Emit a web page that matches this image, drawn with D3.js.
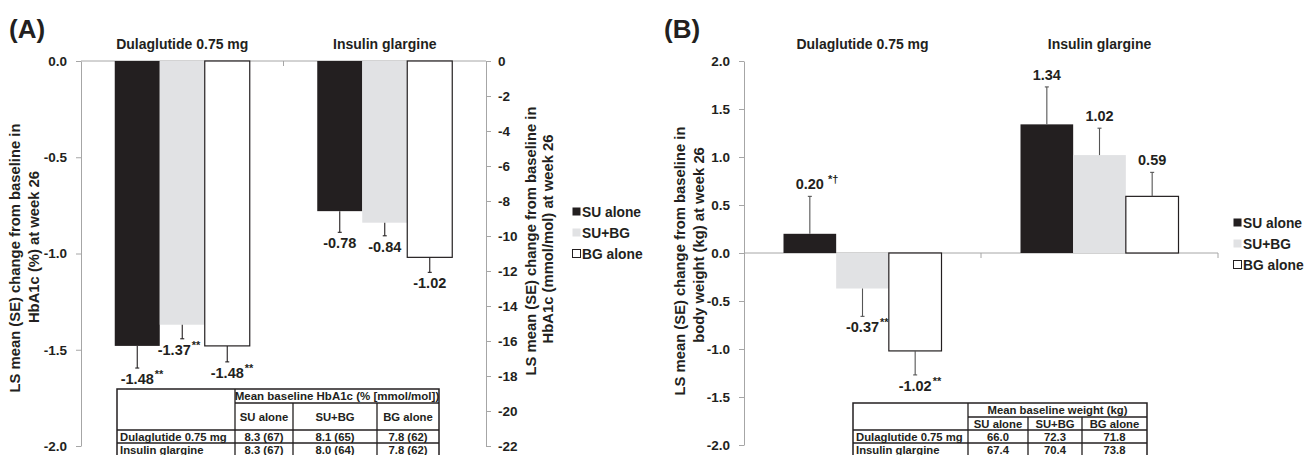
<!DOCTYPE html>
<html>
<head>
<meta charset="utf-8">
<script src="https://cdn.jsdelivr.net/npm/d3@7"></script>
<style>
  body { margin: 0; background: #fff; }
  svg { display: block; font-family: "Liberation Sans", Arial, sans-serif; font-weight: bold; }
  .axis path, .axis line { stroke: #a6a6a6; }
  .axis text { fill: #231f20; font-size: 13.5px; font-weight: bold; }
</style>
</head>
<body>
<div id="chart"></div>
<script>
//categories and series
var groups = ["Dulaglutide 0.75 mg", "Insulin glargine"],
    series = ["SU alone", "SU+BG", "BG alone"];

//(A) HbA1c change, %
var hba1cMean = [[-1.48, -1.37, -1.48], [-0.78, -0.84, -1.02]],
    hba1cSE = [[0.115, 0.073, 0.083], [0.11, 0.068, 0.078]],
    hba1cSig = [["**", "**", "**"], ["", "", ""]],
    hba1cTicks = [0, -0.5, -1.0, -1.5, -2.0],
    mmolTicks = [0, -2, -4, -6, -8, -10, -12, -14, -16, -18, -20, -22];

//(B) body weight change, kg
var weightMean = [[0.20, -0.37, -1.02], [1.34, 1.02, 0.59]],
    weightSE = [[0.39, 0.29, 0.25], [0.39, 0.28, 0.25]],
    weightSig = [[" *\u2020", "**", "**"], ["", "", ""]],
    weightTicks = [2.0, 1.5, 1.0, 0.5, 0.0, -0.5, -1.0, -1.5, -2.0];

//baseline tables
var tableRows = ["Dulaglutide 0.75 mg", "Insulin glargine"],
    hba1cBaseline = [["8.3 (67)", "8.1 (65)", "7.8 (62)"], ["8.3 (67)", "8.0 (64)", "7.8 (62)"]],
    weightBaseline = [["66.0", "72.3", "71.8"], ["67.4", "70.4", "73.8"]];

var colors = ["#231f20", "#e1e2e4", "#ffffff"],
    ink = "#231f20";

var svg = d3.select("#chart").append("svg")
    .attr("width", 1307)
    .attr("height", 455);

function drawPanel(opt) {
    var g = svg.append("g");

    var x = d3.scaleBand().domain(groups).range([opt.x0, opt.x1]);
    var bw = x.bandwidth();
    var xs = d3.scaleBand().domain(series).range([bw / 6, bw * 5 / 6]);
    var y = d3.scaleLinear().domain(opt.domain).range([opt.yBot, opt.yTop]);

    //panel letter
    g.append("text")
        .attr("x", opt.letterX).attr("y", 38)
        .style("font-size", "26px").style("fill", ink)
        .text(opt.letter);

    //group titles
    g.selectAll(".grp").data(groups).enter().append("text")
        .attr("x", function(d) { return x(d) + bw / 2; })
        .attr("y", 49)
        .attr("text-anchor", "middle")
        .style("font-size", "14px").style("fill", ink)
        .text(function(d) { return d; });

    //left axis
    g.append("g").attr("class", "axis")
        .attr("transform", "translate(" + opt.x0 + ",0)")
        .call(d3.axisLeft(y).tickValues(opt.ticks).tickSize(5).tickSizeOuter(0)
            .tickFormat(function(d) { return d.toFixed(1); }))
        .selectAll("text").attr("dx", "-6");

    //category axis at zero
    g.append("line")
        .attr("x1", opt.x0).attr("x2", opt.x1)
        .attr("y1", y(0)).attr("y2", y(0))
        .attr("stroke", "#a6a6a6");
    var sepTicks = groups.slice(1).map(function(d) { return x(d); });
    if (opt.endTick) sepTicks.push(opt.x1);
    g.selectAll(".sep").data(sepTicks).enter().append("line")
        .attr("x1", function(d) { return d; }).attr("x2", function(d) { return d; })
        .attr("y1", y(0)).attr("y2", y(0) + 5)
        .attr("stroke", "#a6a6a6");

    //flatten data
    var rows = [];
    groups.forEach(function(grp, gi) {
        series.forEach(function(s, si) {
            rows.push({grp: grp, s: s, gi: gi, si: si,
                v: opt.mean[gi][si], se: opt.se[gi][si], sig: opt.sig[gi][si]});
        });
    });

    var bars = g.selectAll(".bar").data(rows).enter().append("g");

    bars.append("rect")
        .attr("x", function(d) { return x(d.grp) + xs(d.s); })
        .attr("width", xs.bandwidth())
        .attr("y", function(d) { return y(Math.max(0, d.v)); })
        .attr("height", function(d) { return Math.abs(y(d.v) - y(0)); })
        .attr("fill", function(d) { return colors[d.si]; })
        .attr("stroke", function(d) { return d.si == 2 ? ink : "none"; })
        .attr("stroke-width", 1.2);

    //error bars (one-sided, away from zero)
    function errEnd(d) { return y(d.v + (d.v < 0 ? -d.se : d.se)); }
    function cx(d) { return x(d.grp) + xs(d.s) + xs.bandwidth() / 2; }
    bars.append("line")
        .attr("x1", cx).attr("x2", cx)
        .attr("y1", function(d) { return y(d.v); })
        .attr("y2", errEnd)
        .attr("stroke", opt.errColor).attr("stroke-width", 1.1);
    bars.append("line")
        .attr("x1", function(d) { return cx(d) - 2; })
        .attr("x2", function(d) { return cx(d) + 2; })
        .attr("y1", errEnd).attr("y2", errEnd)
        .attr("stroke", opt.errColor).attr("stroke-width", 1.1);

    //value labels
    bars.each(function(d) {
        var lx = cx(d) + (opt.shift ? opt.shift[d.gi][d.si] : 0);
        var ly = d.v < 0 ? errEnd(d) + 16 : errEnd(d) - 7;
        var t = d3.select(this).append("text")
            .attr("x", lx).attr("y", ly)
            .attr("text-anchor", "middle")
            .style("font-size", "14.5px").style("fill", ink)
            .text(d.v.toFixed(2));
        if (d.sig) {
            var w = t.node().getComputedTextLength();
            d3.select(this).append("text")
                .attr("x", lx + w / 2 + 1).attr("y", ly - 6)
                .style("font-size", "11px").style("fill", ink)
                .style("white-space", "pre")
                .text(d.sig);
        }
    });

    //y axis title
    opt.yTitle.forEach(function(line, i) {
        g.append("text")
            .attr("transform", "translate(" + opt.titleX[i] + "," + opt.titleY[i] + ") rotate(-90)")
            .attr("text-anchor", "middle")
            .style("font-size", "14.8px").style("fill", ink)
            .text(line);
    });

    //legend
    var leg = g.selectAll(".leg").data(series).enter().append("g")
        .attr("transform", function(d, i) { return "translate(" + opt.legX + "," + (opt.legY + i * 21) + ")"; });
    leg.append("rect")
        .attr("x", 0.5).attr("y", -4.5).attr("width", 8).attr("height", 8)
        .attr("fill", function(d, i) { return colors[i]; })
        .attr("stroke", function(d, i) { return i == 2 ? ink : "none"; });
    leg.append("text")
        .attr("x", 10).attr("y", 5)
        .style("font-size", "13.8px").style("fill", ink)
        .text(function(d) { return d; });

    return {x: x, y: y};
}

function drawTable(opt) {
    var g = svg.append("g").style("font-size", "11.3px").style("fill", ink);
    var cols = opt.cols, rws = opt.rows;
    var lineAttrs = function(sel) { return sel.attr("stroke", ink).attr("stroke-width", 1.3); };

    //outer box
    g.append("rect")
        .attr("x", cols[0]).attr("y", rws[0])
        .attr("width", cols[cols.length - 1] - cols[0])
        .attr("height", rws[rws.length - 1] - rws[0] + 10)
        .attr("fill", "#fff").attr("stroke", ink).attr("stroke-width", 1.5);
    //vertical lines
    cols.slice(1, -1).forEach(function(c, i) {
        g.append("line").attr("x1", c).attr("x2", c)
            .attr("y1", i == 0 ? rws[0] : rws[1]).attr("y2", rws[rws.length - 1] + 10)
            .call(lineAttrs);
    });
    //horizontal lines
    rws.slice(1).forEach(function(r, i) {
        g.append("line").attr("x1", i == 0 ? cols[1] : cols[0]).attr("x2", cols[cols.length - 1])
            .attr("y1", r).attr("y2", r)
            .call(lineAttrs);
    });

    g.append("text")
        .attr("x", (cols[1] + cols[4]) / 2).attr("y", (rws[0] + rws[1]) / 2 + 4)
        .attr("text-anchor", "middle")
        .style("font-size", opt.headerSize)
        .text(opt.header);
    series.forEach(function(s, i) {
        g.append("text")
            .attr("x", (cols[i + 1] + cols[i + 2]) / 2).attr("y", (rws[1] + rws[2]) / 2 + 4)
            .attr("text-anchor", "middle")
            .text(s);
    });
    tableRows.forEach(function(r, ri) {
        var yy = rws[2 + ri] + 11;
        g.append("text").attr("x", cols[0] + 3).attr("y", yy).text(r);
        opt.values[ri].forEach(function(v, ci) {
            g.append("text")
                .attr("x", (cols[ci + 1] + cols[ci + 2]) / 2).attr("y", yy)
                .attr("text-anchor", "middle")
                .text(v);
        });
    });
}

//panel A
var pA = drawPanel({
    letter: "(A)", letterX: 9,
    x0: 81, x1: 486, yTop: 61, yBot: 446,
    domain: [-2, 0], ticks: hba1cTicks,
    mean: hba1cMean, se: hba1cSE, sig: hba1cSig,
    shift: [[0, -8, 0], [0, 0, 0]],
    errColor: ink, endTick: false,
    yTitle: ["LS mean (SE) change from baseline in", "HbA1c (%) at week 26"],
    titleX: [19.5, 38.5], titleY: [258, 247],
    legX: 572, legY: 212
});

//right axis in mmol/mol
var yMmol = d3.scaleLinear().domain([-22, 0]).range([446, 61]);
svg.append("g").attr("class", "axis")
    .attr("transform", "translate(486,0)")
    .call(d3.axisRight(yMmol).tickValues(mmolTicks).tickSize(5).tickSizeOuter(0)
        .tickFormat(function(d) { return d.toString(); }))
    .selectAll("text").attr("dx", "4");
["LS mean (SE) change from baseline in", "HbA1c (mmol/mol) at week 26"].forEach(function(line, i) {
    svg.append("text")
        .attr("transform", "translate(" + [536, 553][i] + "," + [241, 239][i] + ") rotate(-90)")
        .attr("text-anchor", "middle")
        .style("font-size", "14.8px").style("fill", ink)
        .text(line);
});

drawTable({
    cols: [117, 235, 293, 377, 439],
    rows: [389, 403, 430, 443, 456],
    header: "Mean baseline HbA1c (% [mmol/mol])",
    headerSize: "11.5px",
    values: hba1cBaseline
});

//panel B
var pB = drawPanel({
    letter: "(B)", letterX: 664,
    x0: 744, x1: 1218, yTop: 61, yBot: 445,
    domain: [-2, 2], ticks: weightTicks,
    mean: weightMean, se: weightSE, sig: weightSig,
    errColor: "#555", endTick: true,
    yTitle: ["LS mean (SE) change from baseline in", "body weight (kg) at week 26"],
    titleX: [685, 704], titleY: [261, 245],
    legX: 1233, legY: 223
});

drawTable({
    cols: [853, 968, 1028, 1082, 1147],
    rows: [403, 417, 430, 443, 456],
    header: "Mean baseline weight (kg)",
    headerSize: "11.3px",
    values: weightBaseline
});
</script>
</body>
</html>
